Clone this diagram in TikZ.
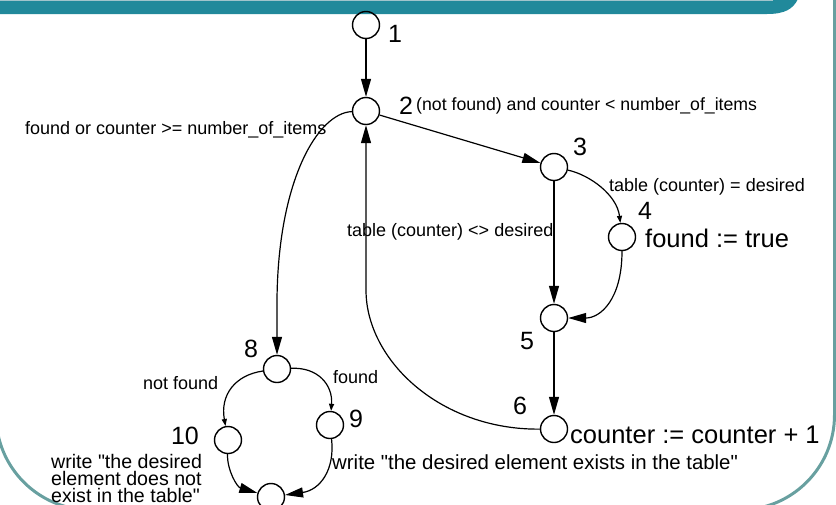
\documentclass[tikz,border=0pt]{standalone}
\usepackage{fontspec}
\setmainfont{Liberation Sans}[Ligatures=TeXOff]
\usepackage{tikz}
\usetikzlibrary{arrows.meta}

\definecolor{bandteal}{RGB}{33,137,155}
\definecolor{bandlight}{RGB}{160,196,204}
\definecolor{edgeteal}{RGB}{104,160,160}

\begin{document}
\begin{tikzpicture}[
  x=1pt, y=-1pt,
  state/.style   = {circle, draw, line width=1.4pt, minimum size=27pt, inner sep=0pt},
  num/.style     = {font=\fontsize{25}{25}\selectfont, inner sep=0pt},
  cond/.style    = {font=\fontsize{18}{18}\selectfont, inner sep=0pt, anchor=west},
  act/.style     = {font=\fontsize{25.5}{25.5}\selectfont, inner sep=0pt, anchor=west},
  arr/.style     = {-{Triangle[length=18pt, width=10pt]}, line width=1.2pt},
  tinyarr/.style = {-{Triangle[length=7pt, width=5pt]}, line width=1.2pt},
]
\useasboundingbox (0,0) rectangle (836,504);
\clip (0,0) rectangle (836,504);

%% slide frame
\draw[edgeteal, line width=3pt, rounded corners=95pt]
  (834.5,-10) -- (834.5,510) -- (-4,510) -- (-4,-10);
\fill[bandteal] (-1,-1) -- (798,-1) .. controls (793,9) and (785,14) .. (767,14) -- (-1,14) -- cycle;
\draw[bandlight, line width=1pt] (0,0.5) -- (773,0.5);

%% states
\node[state] (n1)  at (366,25)  {};
\node[state] (n2)  at (366,111) {};
\node[state] (n3)  at (554,167) {};
\node[state] (n4)  at (622,237) {};
\node[state] (n5)  at (554,318) {};
\node[state] (n6)  at (554,429) {};
\node[state] (n8)  at (277,369) {};
\node[state] (n9)  at (330,425) {};
\node[state] (n10) at (228,440) {};
\node[state] (n11) at (271,497) {};

%% numbers
\node[num] (l1)  at (395,34)  {1};
\node[num] (l2)  at (406,106) {2};
\node[num] (l3)  at (580,147) {3};
\node[num] (l4)  at (645,211) {4};
\node[num] (l5)  at (527,341) {5};
\node[num] (l6)  at (520,406) {6};
\node[num] (l8)  at (251,349) {8};
\node[num] (l9)  at (356,419) {9};
\node[num] (l10) at (185,436) {10};

%% conditions and actions
\node[cond, font=\fontsize{17.7}{17.7}\selectfont] (c23) at (416,106)
  {(not found) and counter < number\_of\_items};
\node[cond] (c28)  at (25,130)  {found or counter >= number\_of\_items};
\node[cond] (c34)  at (609,187) {table (counter) = desired};
\node[cond] (c62)  at (347,232) {table (counter) <> desired};
\node[cond] (c810) at (143,383) {not found};
\node[cond] (c89)  at (333,377) {found};
\node[act]  (a4)   at (645,238) {found := true};
\node[act]  (a6)   at (570,435) {counter := counter + 1};
\node[cond, font=\fontsize{20.4}{20.4}\selectfont] (a9) at (332,462)
  {write "the desired element exists in the table"};
\node[cond, font=\fontsize{19.6}{17}\selectfont, align=left] (a10) at (51,478)
  {write "the desired\\element does not\\exist in the table"};

%% edges
\draw[arr] (n1) -- (n2);
\draw[arr] (n2) -- (n3);
\draw[tinyarr] (n3) .. controls (590,175) and (617,195) .. (n4);
\draw[arr] (n3) -- (n5);
\draw[arr] (n4) .. controls (622,300) and (600,318) .. (n5);
\draw[arr] (n5) -- (n6);
\draw[arr] (n6) .. controls (440,430) and (366,360) .. (366,290) -- (n2);
\draw[arr] (n2) .. controls (318,113) and (278,180) .. (277,300) -- (n8);
\draw[tinyarr] (n8) .. controls (235,375) and (220,395) .. (n10);
\draw[tinyarr] (n8) .. controls (318,367) and (333,385) .. (n9);
\draw[arr] (n10) .. controls (227,470) and (237,487) .. (n11);
\draw[arr] (n9) .. controls (335,470) and (320,490) .. (n11);

\end{tikzpicture}
\end{document}
